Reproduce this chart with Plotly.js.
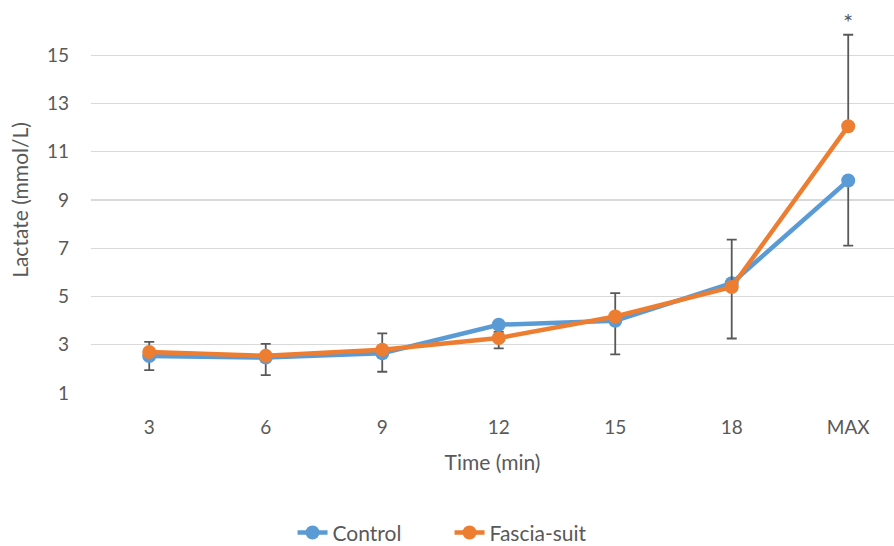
<!DOCTYPE html>
<html>
<head>
<meta charset="utf-8">
<script src="https://cdn.plot.ly/plotly-3.0.1.min.js"></script>
<style>html,body{margin:0;padding:0;background:#fff;}#chart{width:894px;height:546px;}</style>
</head>
<body>
<div id="chart"></div>
<script>
const categories = ['3', '6', '9', '12', '15', '18', 'MAX'];
const controlValues = [2.53, 2.47, 2.65, 3.83, 3.99, 5.55, 9.81];
const controlErrMinus = [0.58, 0.73, 0.77, 0.98, 1.39, 2.29, 2.70];
const fasciaValues = [2.70, 2.54, 2.79, 3.28, 4.17, 5.39, 12.06];
const fasciaErrPlus = [0.42, 0.50, 0.68, 0.25, 0.97, 1.97, 3.79];
const yTicks = [1, 3, 5, 7, 9, 11, 13, 15];
const seriesNames = ['Control', 'Fascia-suit'];
const sigLabel = '*';
const sigCategory = 'MAX';
const sigY = 16.4;

const zeros = categories.map(() => 0);
const errStyle = {color: '#595959', thickness: 1.8, width: 5};
const font = 'Lato, "Open Sans", sans-serif';

const traces = [
  {
    x: categories, y: controlValues, name: seriesNames[0], type: 'scatter', mode: 'lines+markers',
    line: {color: '#5B9BD5', width: 4.5}, marker: {color: '#5B9BD5', size: 14},
    error_y: Object.assign({type: 'data', symmetric: false, array: zeros, arrayminus: controlErrMinus}, errStyle),
    cliponaxis: false
  },
  {
    x: categories, y: fasciaValues, name: seriesNames[1], type: 'scatter', mode: 'lines+markers',
    line: {color: '#ED7D31', width: 4.5}, marker: {color: '#ED7D31', size: 14},
    error_y: Object.assign({type: 'data', symmetric: false, array: fasciaErrPlus, arrayminus: zeros}, errStyle),
    cliponaxis: false
  }
];

const layout = {
  width: 894, height: 546,
  margin: {l: 91, r: 0, t: 6.6, b: 152.7, autoexpand: false},
  paper_bgcolor: '#ffffff', plot_bgcolor: '#ffffff',
  font: {family: font, color: '#595959', size: 19},
  xaxis: {
    type: 'category', range: [-0.5, 6.393],
    showgrid: false, zeroline: false, showline: false, ticks: '',
    ticklabelstandoff: 21,
    tickfont: {size: 19, color: '#595959'},
    title: {text: 'Time (min)', font: {size: 21, color: '#595959'}, standoff: 18}
  },
  yaxis: {
    range: [1, 17], tickvals: yTicks, ticktext: yTicks.map(String),
    showgrid: true, gridcolor: '#D9D9D9', gridwidth: 1.3,
    zeroline: false, showline: false, ticks: '',
    ticklabelstandoff: 21,
    tickfont: {size: 19, color: '#595959'},
    title: {text: 'Lactate (mmol/L)', font: {size: 21, color: '#595959'}, standoff: 12}
  },
  legend: {
    orientation: 'h', x: 0.4465, xanchor: 'center', y: 0.024, yref: 'container', yanchor: 'middle',
    entrywidth: 112, entrywidthmode: 'pixels',
    font: {size: 21, color: '#595959'}, bgcolor: 'rgba(0,0,0,0)', traceorder: 'normal'
  },
  annotations: [{
    x: sigCategory, y: sigY, xref: 'x', yref: 'y', text: sigLabel, showarrow: false,
    font: {size: 24, color: '#595959'}, yanchor: 'middle'
  }],
  showlegend: true
};

Plotly.newPlot('chart', traces, layout, {displayModeBar: false, staticPlot: true});
</script>
</body>
</html>
